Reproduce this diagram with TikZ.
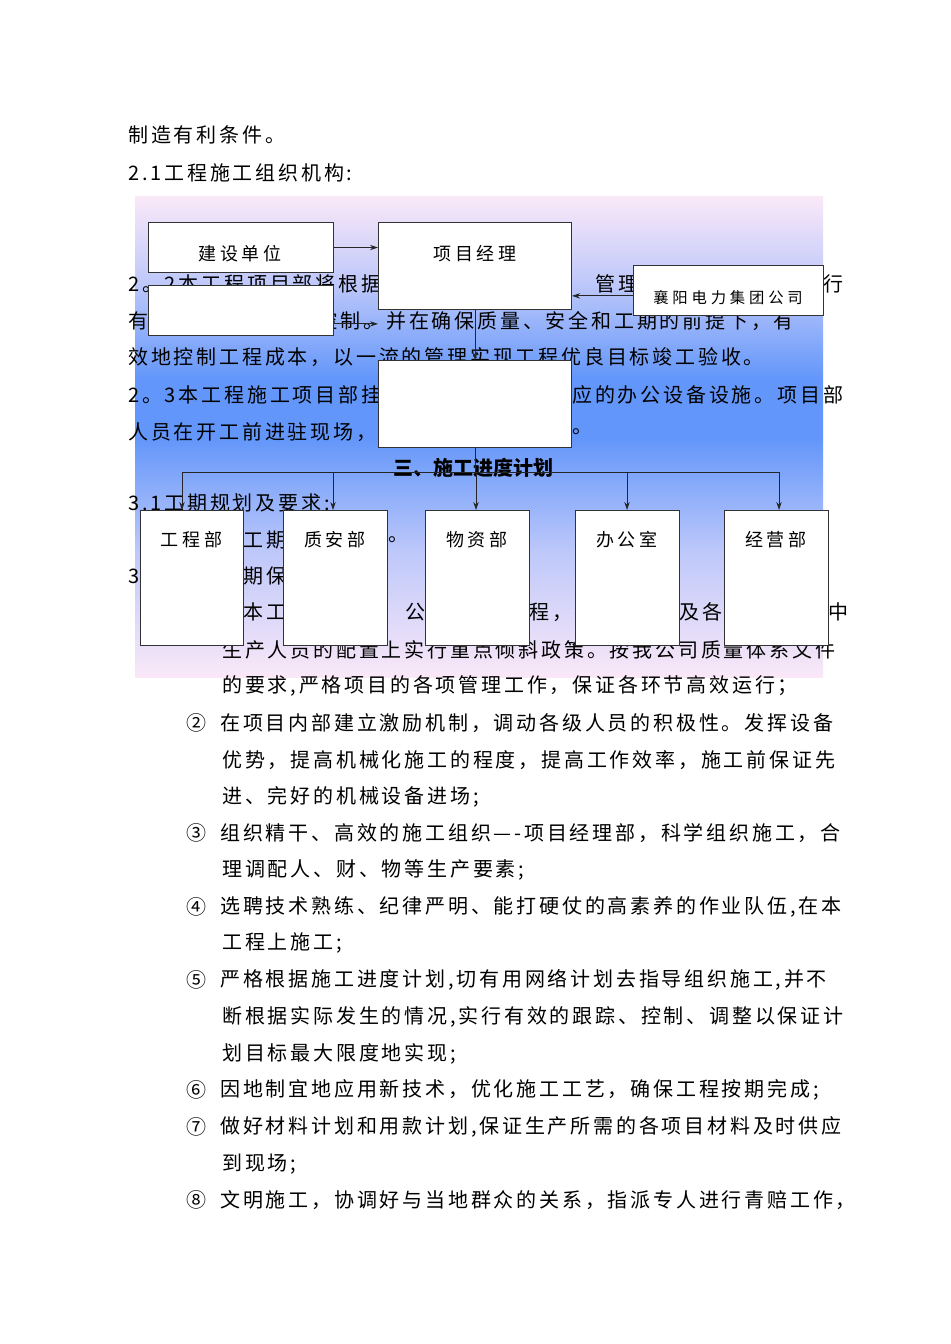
\documentclass[tikz,border=0pt]{standalone}
\usepackage{fontspec}
\setmainfont{Noto Sans CJK SC}
\usetikzlibrary{arrows.meta}
\definecolor{midb}{RGB}{98,150,250}
\definecolor{lb}{RGB}{190,200,250}
\definecolor{endp}{RGB}{250,232,248}
\pgfdeclareverticalshading{bgsh}{100bp}{color(0bp)=(endp); color(25bp)=(endp); color(38bp)=(lb); color(50bp)=(midb); color(56bp)=(midb); color(66bp)=(lb); color(75bp)=(endp); color(100bp)=(endp)}
\begin{document}
\begin{tikzpicture}[x=0.75pt,y=-0.75pt,
  txt/.style={anchor=west,inner sep=0pt,font=\fontsize{15}{15}\selectfont\addfontfeature{LetterSpace=14}},
  bx/.style={draw=black!80,fill=white,line width=0.8pt},
  lab/.style={inner sep=0pt,font=\fontsize{13.5}{13.5}\selectfont\addfontfeature{LetterSpace=22}},
  arr/.style={-{Stealth[length=6pt,width=4pt]},line width=0.7pt,draw=black!85},
  ln/.style={line width=0.7pt,draw=black!85}]
\useasboundingbox (0,0) rectangle (950,1344);
\fill[white] (0,0) rectangle (950,1344);
\shade[shading=bgsh] (135,197) rectangle (823,677);
% body text
\node[txt] (t1) at (128,135) {制造有利条件。};
\node[txt] (t2) at (128,173) {2.1工程施工组织机构:};
\node[txt] (t3a) at (128,284) {2。2本工程项目部将根据};
\node[txt] (t3b) at (595,284) {管理，};
\node[txt] (t3c) at (823,284) {行};
\node[txt] (t4a) at (128,321) {有};
\node[txt] (t4b) at (272,321) {调和控制。并在确保质量、安全和工期的前提下，有};
\node[txt] (t5) at (128,357) {效地控制工程成本，以一流的管理实现工程优良目标竣工验收。};
\node[txt] (t6a) at (128,395) {2。3本工程施工项目部挂};
\node[txt] (t6b) at (572,395) {应的办公设备设施。项目部};
\node[txt] (t7a) at (128,432) {人员在开工前进驻现场，};
\node[txt] (t7b) at (572,432) {。};
\node[txt,font=\fontsize{15}{15}\selectfont\bfseries] (h3) at (393,468) {三、施工进度计划};
\node[txt] (t8) at (128,503) {3.1工期规划及要求:};
\node[txt] (t9a) at (243,540) {工期};
\node[txt] (t9b) at (388,540) {。};
\node[txt] (t10a) at (128,576) {3};
\node[txt] (t10b) at (243,576) {期保};
\node[txt] (t11a) at (243,612) {本工};
\node[txt] (t11b) at (405,612) {公司};
\node[txt] (t11c) at (529,612) {程，在};
\node[txt] (t11d) at (679,612) {及各};
\node[txt] (t11e) at (828,612) {中};
\node[txt] (t12) at (222,650) {生产人员的配置上实行重点倾斜政策。按我公司质量体系文件};
\node[txt] (t13) at (222,686) {的要求,严格项目的各项管理工作，保证各环节高效运行；};
\node[txt] (n2) at (186,723) {②};
\node[txt] (l2) at (220,723) {在项目内部建立激励机制，调动各级人员的积极性。发挥设备};
\node[txt] (l2b) at (222,760) {优势，提高机械化施工的程度，提高工作效率，施工前保证先};
\node[txt] (l2c) at (222,797) {进、完好的机械设备进场;};
\node[txt] (n3) at (186,833) {③};
\node[txt] (l3) at (220,833) {组织精干、高效的施工组织—-项目经理部，科学组织施工，合};
\node[txt] (l3b) at (222,870) {理调配人、财、物等生产要素;};
\node[txt] (n4) at (186,907) {④};
\node[txt] (l4) at (220,907) {选聘技术熟练、纪律严明、能打硬仗的高素养的作业队伍,在本};
\node[txt] (l4b) at (222,943) {工程上施工;};
\node[txt] (n5) at (186,980) {⑤};
\node[txt] (l5) at (220,980) {严格根据施工进度计划,切有用网络计划去指导组织施工,并不};
\node[txt] (l5b) at (222,1017) {断根据实际发生的情况,实行有效的跟踪、控制、调整以保证计};
\node[txt] (l5c) at (222,1054) {划目标最大限度地实现;};
\node[txt] (n6) at (186,1090) {⑥};
\node[txt] (l6) at (220,1090) {因地制宜地应用新技术，优化施工工艺，确保工程按期完成;};
\node[txt] (n7) at (186,1127) {⑦};
\node[txt] (l7) at (220,1127) {做好材料计划和用款计划,保证生产所需的各项目材料及时供应};
\node[txt] (l7b) at (222,1164) {到现场;};
\node[txt] (n8) at (186,1200) {⑧};
\node[txt] (l8) at (220,1200) {文明施工，协调好与当地群众的关系，指派专人进行青赔工作，};
% boxes
\node[bx,minimum width=139pt,minimum height=37.5pt,anchor=north west] (js) at (148,222) {};
\node[lab] at (240,254) {建设单位};
\node[bx,minimum width=139pt,minimum height=37.5pt,anchor=north west] (bl) at (148,285) {};
\node[bx,minimum width=144.75pt,minimum height=65pt,anchor=north west] (pm) at (378,222) {};
\node[lab] at (475,254) {项目经理};
\node[bx,minimum width=142.5pt,minimum height=37.5pt,anchor=north west] (xy) at (633,265) {};
\node[lab,font=\fontsize{11.5}{11.5}\selectfont\addfontfeature{LetterSpace=25}] at (728,298) {襄阳电力集团公司};
\node[bx,minimum width=144.75pt,minimum height=65pt,anchor=north west] (mid) at (378,360) {};
\draw[arr] (js.east) -- (js.east -| pm.west);
\draw[arr] (bl.east) ++(0,-10pt) coordinate (ba) -- (ba -| pm.west);
\draw[arr] (xy.west) ++(0,-4pt) coordinate (xa) -- (xa -| pm.east);
\draw[arr] (pm.south) -- (mid.north);
\coordinate (hl) at (182,472);
\coordinate (hr) at (779,472);
\draw[ln] (mid.south) -- (mid.south |- hl);
\draw[ln] (hl) -- (hr);
\foreach \nm/\xl/\xr/\dx/\t in {d1/140/243/182/工程部,d2/283/387/333/质安部,d3/425/529/476/物资部,d4/575/679/627/办公室,d5/724/828/779/经营部}{
  \node[bx,minimum width={(\xr-\xl)*0.75pt},minimum height=101.25pt,anchor=north west] (\nm) at (\xl,510) {};
  \node[lab] at ({(\xl+\xr)/2},540) {\t};
  \draw[arr] (\dx,472) -- (\dx,510);
}
\end{tikzpicture}
\end{document}
